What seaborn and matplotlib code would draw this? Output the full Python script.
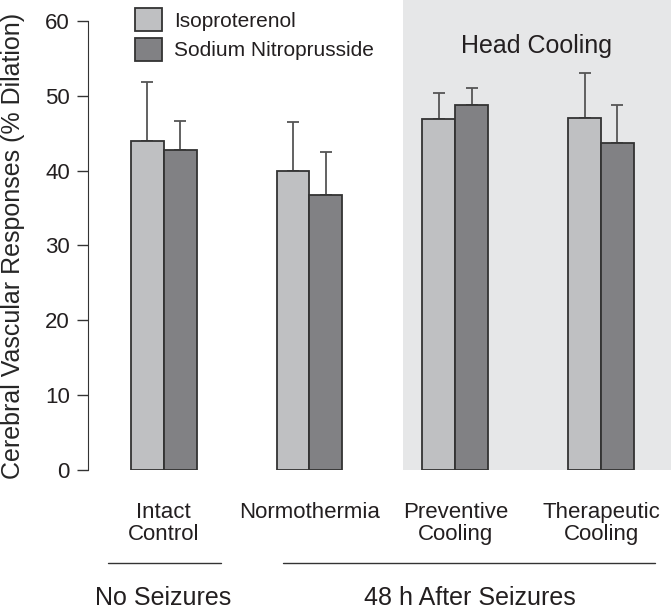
import pandas as pd
import matplotlib.pyplot as plt
import seaborn as sns
from matplotlib.lines import Line2D

groups = ["Intact\nControl", "Normothermia", "Preventive\nCooling", "Therapeutic\nCooling"]
iso_mean = [44.0, 39.9, 46.9, 47.1]
iso_err = [7.9, 6.6, 3.5, 5.9]
snp_mean = [42.7, 36.8, 48.8, 43.7]
snp_err = [3.9, 5.7, 2.3, 5.1]

df = pd.DataFrame({
    "group": groups * 2,
    "drug": ["Isoproterenol"] * 4 + ["Sodium Nitroprusside"] * 4,
    "mean": iso_mean + snp_mean,
})

sns.set_style("ticks")
plt.rcParams["font.family"] = ["Liberation Sans", "DejaVu Sans"]
plt.rcParams["text.color"] = "#231f20"
plt.rcParams["xtick.color"] = "#231f20"
plt.rcParams["ytick.color"] = "#231f20"

fig = plt.figure(figsize=(6.71, 6.14), dpi=100)
ax = fig.add_axes([0.131, 0.2345, 0.869, 0.7655])

ax.axvspan(1.64, 3.6, color="#e6e7e8", zorder=0, lw=0)

sns.barplot(
    data=df, x="group", y="mean", hue="drug", order=groups,
    palette=["#bfc0c2", "#808084"], width=0.45,
    edgecolor="#333333", linewidth=1.3, ax=ax, zorder=2,
)

# upward-only error bars
for cont, errs in zip(ax.containers, [iso_err, snp_err]):
    for p, e in zip(cont.patches, errs):
        cx = p.get_x() + p.get_width() / 2
        ax.errorbar(cx, p.get_height(), yerr=[[0], [e]], fmt="none",
                    ecolor="#555555", elinewidth=1.3, capsize=4, capthick=1.3, zorder=1)

ax.set_xlim(-0.52, 3.48)
ax.set_ylim(0, 62.8)
ax.set_yticks(range(0, 61, 10))
ax.spines["left"].set_bounds(0, 60)
ax.spines["left"].set_color("#333333")
for s in ["top", "right", "bottom"]:
    ax.spines[s].set_visible(False)
ax.tick_params(axis="y", length=8, width=1, color="#333333", labelsize=16, pad=5)
ax.tick_params(axis="x", length=0, labelsize=16, pad=23)
for lbl in ax.get_xticklabels():
    lbl.set_linespacing(1.05)
ax.set_xlabel("")
ax.set_ylabel("Cerebral Vascular Responses (% Dilation)", fontsize=18)
ax.yaxis.set_label_coords(-0.108, 0.477)

ax.text(2.56, 56.6, "Head Cooling", ha="center", va="center", fontsize=18)

sns.move_legend(ax, "upper left", bbox_to_anchor=(0.185, 1.004),
                bbox_transform=fig.transFigure, frameon=False, title=None,
                fontsize=15, handlelength=1.3, handleheight=1.35,
                labelspacing=0.3, handletextpad=0.6, borderpad=0)

# bracket lines for seizure groups
fig.add_artist(Line2D([0.161, 0.329], [0.083, 0.083], color="#333333", lw=1))
fig.add_artist(Line2D([0.422, 0.976], [0.083, 0.083], color="#333333", lw=1))
fig.text(0.243, 0.026, "No Seizures", ha="center", va="center", fontsize=18)
fig.text(0.700, 0.026, "48 h After Seizures", ha="center", va="center", fontsize=18)

fig.savefig("out.png", dpi=100)
